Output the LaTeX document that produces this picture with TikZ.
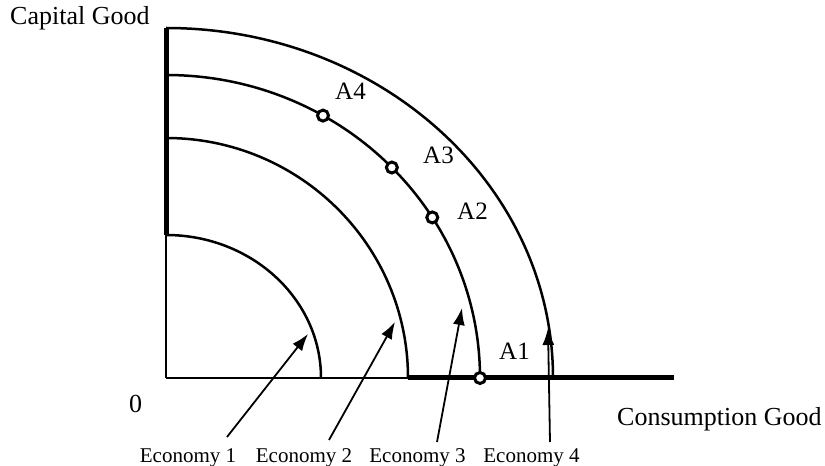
\documentclass[tikz,border=0pt]{standalone}
\usepackage{fontspec}
\setmainfont{Liberation Serif}
\usetikzlibrary{arrows.meta}
\begin{document}
\begin{tikzpicture}[x=1pt,y=1pt,
  thinline/.style={line width=2.4pt},
  thickline/.style={line width=5pt},
  curve/.style={line width=2.5pt},
  ptmark/.style={circle,draw,line width=3pt,fill=white,minimum size=11pt,inner sep=0pt},
  biglabel/.style={inner sep=0pt,anchor=base west,font=\fontsize{26}{30}\selectfont},
  alabel/.style={inner sep=0pt,anchor=base west,font=\fontsize{25}{29}\selectfont},
  ecolabel/.style={inner sep=0pt,anchor=base,font=\fontsize{21}{25}\selectfont},
  econarrow/.style={line width=1.8pt,-{Latex[length=17pt,width=12pt]}}]
\useasboundingbox (0,0) rectangle (825,466);
% axes
\coordinate (O) at (166,88);
\coordinate (Ytop) at (166,438);
\coordinate (Ymid) at (166,231);
\coordinate (Xmid) at (408,88);
\coordinate (Xend) at (674,88);
\draw[thinline] (O) -- (Ymid);
\draw[thickline] (Ymid) -- (Ytop);
\draw[thinline] (O) -- (Xmid);
\draw[thickline] (Xmid) -- (Xend);
% frontiers
\draw[curve] (166,231) arc[start angle=90,end angle=0,x radius=155,y radius=143];
\draw[curve] (166,328) arc[start angle=90,end angle=0,x radius=242,y radius=240];
\draw[curve] (166,391) arc[start angle=90,end angle=0,x radius=314,y radius=303];
\draw[curve] (166,438) arc[start angle=90,end angle=0,x radius=387,y radius=350];
% points on frontier 3
\node[ptmark] (p4) at ({166+314*cos(60)},{88+303*sin(60)}) {};
\node[ptmark] (p3) at ({166+314*cos(44)},{88+303*sin(44)}) {};
\node[ptmark] (p2) at ({166+314*cos(32)},{88+303*sin(32)}) {};
\node[ptmark] (p1) at (480,88) {};
\node[alabel] (a4) at (335,366) {A4};
\node[alabel] (a3) at (423,302) {A3};
\node[alabel] (a2) at (457,246) {A2};
\node[alabel] (a1) at (499,106) {A1};
% axis labels
\node[biglabel] (ylab) at (10,441) {Capital Good};
\node[biglabel] (xlab) at (617,40) {Consumption Good};
\node[biglabel] (zero) at (129,53) {0};
% economies
\node[ecolabel] (e1) at (188,3) {Economy 1};
\node[ecolabel] (e2) at (304,3) {Economy 2};
\node[ecolabel] (e3) at (417.5,3) {Economy 3};
\node[ecolabel] (e4) at (531.5,3) {Economy 4};
\coordinate (t1) at (227,29);
\coordinate (h1) at (308,132);
\coordinate (t2) at (329,26);
\coordinate (h2) at (395,144);
\coordinate (t3) at (437,24);
\coordinate (h3) at (462,158);
\coordinate (t4) at (550,24);
\coordinate (h4) at (548,138);
\draw[econarrow] (t1) -- (h1);
\draw[econarrow] (t2) -- (h2);
\draw[econarrow] (t3) -- (h3);
\draw[econarrow] (t4) -- (h4);
\end{tikzpicture}
\end{document}
